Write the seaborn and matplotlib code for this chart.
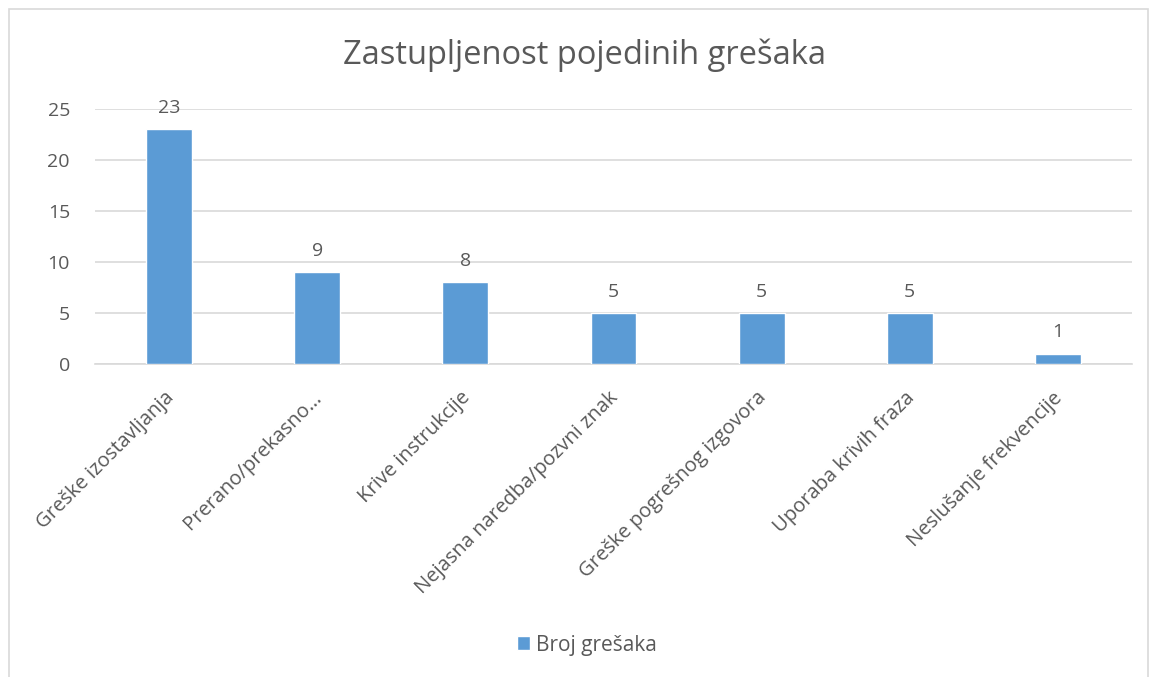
import matplotlib
matplotlib.use("Agg")
import matplotlib.pyplot as plt
import seaborn as sns
import pandas as pd
from matplotlib.patches import Rectangle

# data
categories = ["Greške izostavljanja", "Prerano/prekasno…", "Krive instrukcije",
              "Nejasna naredba/pozvni znak", "Greške pogrešnog izgovora",
              "Uporaba krivih fraza", "Neslušanje frekvencije"]
counts = [23, 9, 8, 5, 5, 5, 1]
yticks = [0, 5, 10, 15, 20, 25]

df = pd.DataFrame({"kategorija": categories, "broj": counts})

sns.set_theme(style="white")
plt.rcParams["font.family"] = ["Open Sans", "DejaVu Sans"]
txt = "#595959"
grid = "#D9D9D9"
blue = "#5B9BD5"

fig = plt.figure(figsize=(11.51, 6.77), dpi=100)
ax = fig.add_axes([0.0825, 0.4623, 0.901, 0.3767])

sns.barplot(data=df, x="kategorija", y="broj", color=blue, width=0.31,
            saturation=1, ax=ax, label="Broj grešaka", zorder=3)

ax.set_ylim(0, 25)
ax.set_yticks(yticks)
ax.set_xlim(-0.5, len(categories) - 0.5)
ax.yaxis.grid(True, color=grid, linewidth=1.2, zorder=0)
ax.set_axisbelow(True)
for s in ["top", "right", "left"]:
    ax.spines[s].set_visible(False)
ax.spines["bottom"].set_color(grid)
ax.spines["bottom"].set_linewidth(1.2)
ax.set_xlabel("")
ax.set_ylabel("")
ax.tick_params(axis="both", length=0, colors=txt, labelsize=14)
ax.tick_params(axis="x", labelsize=14.5, pad=21)
ax.tick_params(axis="y", pad=18)
plt.setp(ax.get_xticklabels(), rotation=45, ha="right", va="center_baseline",
         rotation_mode="anchor")

for c in ax.containers:
    ax.bar_label(c, labels=[str(v) for v in counts], padding=9, fontsize=14, color=txt)

fig.text(0.508, 0.918, "Zastupljenost pojedinih grešaka", ha="center", va="center",
         fontsize=23.5, color=txt)

leg = fig.legend(*ax.get_legend_handles_labels(), loc="center", bbox_to_anchor=(0.51, 0.047),
                 frameon=False, fontsize=15, handlelength=0.65, handleheight=0.65,
                 handletextpad=0.3, labelcolor=txt)
if ax.get_legend():
    ax.get_legend().remove()

# light chart border like the original
fig.patches.append(Rectangle((9 / 1151, -0.01), (1148 - 9) / 1151, 1 - 9 / 677 + 0.01,
                             transform=fig.transFigure, fill=False,
                             edgecolor=grid, linewidth=1.2))

fig.savefig("out.png", dpi=100)
